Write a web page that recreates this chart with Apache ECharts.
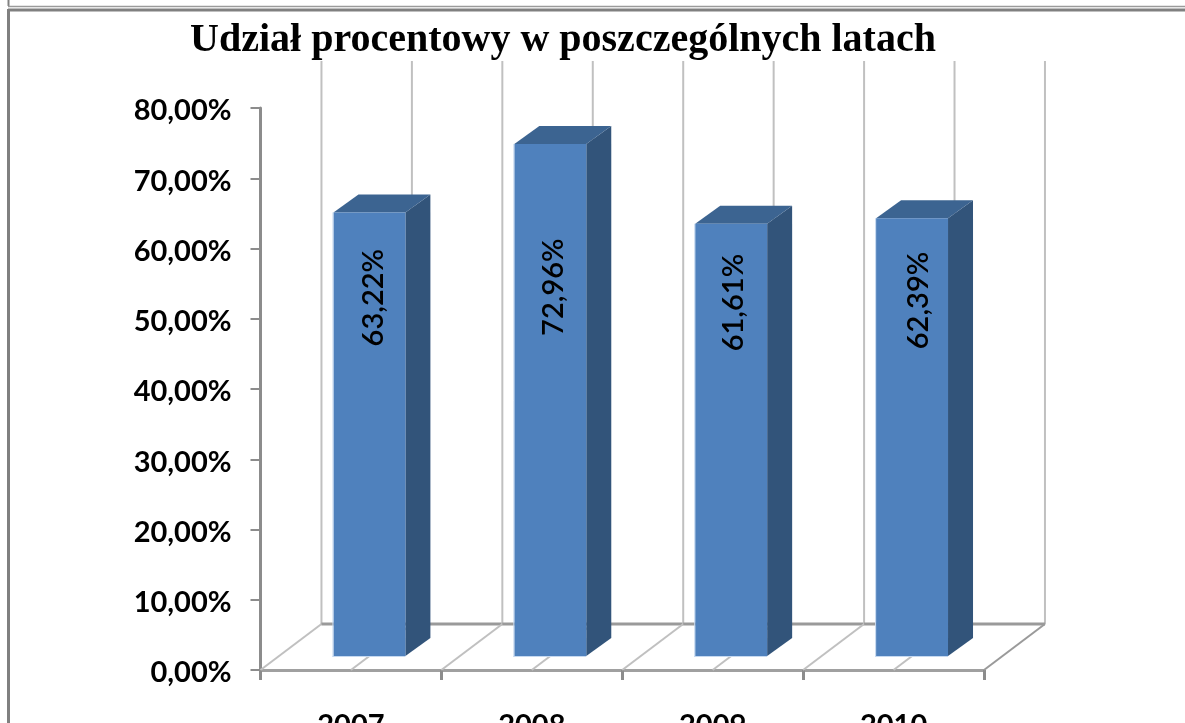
<!DOCTYPE html>
<html>
<head>
<meta charset="utf-8">
<style>html,body{margin:0;padding:0;background:#fff;overflow:hidden}#c{width:1185px;height:723px}</style>
<script src="https://cdn.jsdelivr.net/npm/echarts@6/dist/echarts.min.js"></script>
</head>
<body>
<div id="c"></div>
<script>
const titleText = 'Udział procentowy w poszczególnych latach';
const categories = ['2007', '2008', '2009', '2010'];
const shares = [63.22, 72.96, 61.61, 62.39];
const shareLabels = ['63,22%', '72,96%', '61,61%', '62,39%'];
const yTicks = [0, 10, 20, 30, 40, 50, 60, 70, 80];

// hand placement of the rotated data labels, as in the reference (value level of the label centre, px shift from bar centre)
const labelLevels = [53, 54.5, 52.3, 52.6];
const labelShifts = [4, 3, 2, 7];

const wallTopValue = 86.7;
const FRONT = '#4f81bd', SIDE = '#32547a', TOP = '#3c6491', EDGE = '#c6d9f0';
const GRID_LIGHT = '#c0c0c0', GRID_DARK = '#9a9a9a', AXIS = '#8c8c8c';

const chart = echarts.init(document.getElementById('c'), null, {renderer: 'canvas'});

function line(x1, y1, x2, y2, color, w) {
  return {type: 'line', shape: {x1, y1, x2, y2}, style: {stroke: color, lineWidth: w}, silent: true};
}

function renderWalls(params, api) {
  const i = api.value(0);
  const band = api.size([1, 0])[0];
  const c = api.coord([i, 0]);
  const yFront = c[1];
  const yTop = api.coord([i, wallTopValue])[1];
  const dx = band * 61 / 181, dy = 46;
  const left = c[0] - band / 2;
  const kids = [];
  const last = i === categories.length - 1;
  [0, 0.5].concat(last ? [1] : []).forEach(function (f) {
    const x = left + band * f;
    const edge = f === 1;
    kids.push(line(x, yFront, x + dx, yFront - dy, edge ? GRID_DARK : GRID_LIGHT, 2));
    kids.push(line(x + dx, yFront - dy, x + dx, yTop, GRID_LIGHT, 2));
  });
  kids.push(line(left + dx, yFront - dy, left + band + dx, yFront - dy, GRID_DARK, 3));
  return {type: 'group', children: kids};
}

function renderBars(params, api) {
  const i = api.value(0);
  const band = api.size([1, 0])[0];
  const base = api.coord([i, 0]);
  const top = api.coord([i, api.value(1)]);
  const perUnit = api.size([0, 1])[1];
  const w = band * 72 / 181;
  const shiftX = band * 18.5 / 181, shiftY = 14;
  const dx = 25, dy = 18;
  const x0 = base[0] + shiftX - w / 2, x1 = x0 + w;
  const yb = base[1] - shiftY, yt = top[1] - shiftY + 0.5;
  return {type: 'group', children: [
    {type: 'polygon', shape: {points: [[x1, yb], [x1 + dx, yb - dy], [x1 + dx, yt - dy], [x1, yt]]}, style: {fill: SIDE}},
    {type: 'polygon', shape: {points: [[x0, yt], [x0 + dx, yt - dy], [x1 + dx, yt - dy], [x1, yt]]}, style: {fill: TOP}},
    {type: 'rect', shape: {x: x0, y: yt, width: w, height: yb - yt}, style: {fill: FRONT}},
    line(x0 - 0.5, yt, x0 - 0.5, yb + 1, EDGE, 1),
    line(x0 - 1, yb + 0.5, x1, yb + 0.5, EDGE, 1),
    {type: 'text', x: base[0] + shiftX + labelShifts[i], y: base[1] - labelLevels[i] * perUnit,
      rotation: Math.PI / 2,
      style: {text: shareLabels[i], fill: '#000', align: 'center', verticalAlign: 'middle',
        font: '600 29px Lato, "Noto Sans", sans-serif'}}
  ]};
}

chart.setOption({
  animation: false,
  backgroundColor: '#fff',
  title: {
    text: titleText, left: 558, top: 16, textAlign: 'center',
    textStyle: {fontFamily: '"Liberation Serif", serif', fontWeight: 'bold', fontSize: 40, color: '#000'}
  },
  grid: {left: 260.5, right: 201, top: 108, bottom: 53, containLabel: false, outerBoundsMode: 'none'},
  xAxis: {
    type: 'category', data: categories, boundaryGap: true,
    axisLine: {lineStyle: {color: '#a0a0a0', width: 3}},
    axisTick: {show: true, length: 10, alignWithLabel: false, lineStyle: {color: AXIS, width: 3}},
    axisLabel: {margin: 41, color: '#000', fontFamily: 'Lato, "Noto Sans", sans-serif', fontWeight: 'bold', fontSize: 29, hideOverlap: false},
    splitLine: {show: false}
  },
  yAxis: {
    type: 'value', min: 0, max: 80, interval: 10,
    axisLine: {show: true, lineStyle: {color: AXIS, width: 3}},
    axisTick: {show: true, length: 10, lineStyle: {color: AXIS, width: 2}},
    axisLabel: {margin: 29, color: '#000', fontFamily: 'Lato, "Noto Sans", sans-serif', fontWeight: 'bold', fontSize: 29,
      verticalAlign: 'top', lineHeight: 6,
      formatter: function (v) { return yTicks[yTicks.indexOf(v)] + ',00%'; }},
    splitLine: {show: false}
  },
  series: [
    {type: 'custom', name: 'walls', z: 1, clip: false, silent: true, renderItem: renderWalls,
      encode: {x: 0, y: 1}, data: categories.map(function (c, i) { return [i, 0]; })},
    {type: 'custom', name: 'Udział', z: 3, clip: false, silent: true, renderItem: renderBars,
      encode: {x: 0, y: 1}, data: shares.map(function (v, i) { return [i, v]; })}
  ],
  graphic: [
    {type: 'line', shape: {x1: 8.5, y1: 0, x2: 8.5, y2: 6}, style: {stroke: '#808080', lineWidth: 2}},
    {type: 'line', shape: {x1: 8, y1: 6.5, x2: 1185, y2: 6.5}, style: {stroke: '#9a9a9a', lineWidth: 1.5}},
    {type: 'line', shape: {x1: 8, y1: 10, x2: 1185, y2: 10}, style: {stroke: '#808080', lineWidth: 3}},
    {type: 'line', shape: {x1: 8.5, y1: 9, x2: 8.5, y2: 723}, style: {stroke: '#808080', lineWidth: 3}}
  ]
});
</script>
</body>
</html>
